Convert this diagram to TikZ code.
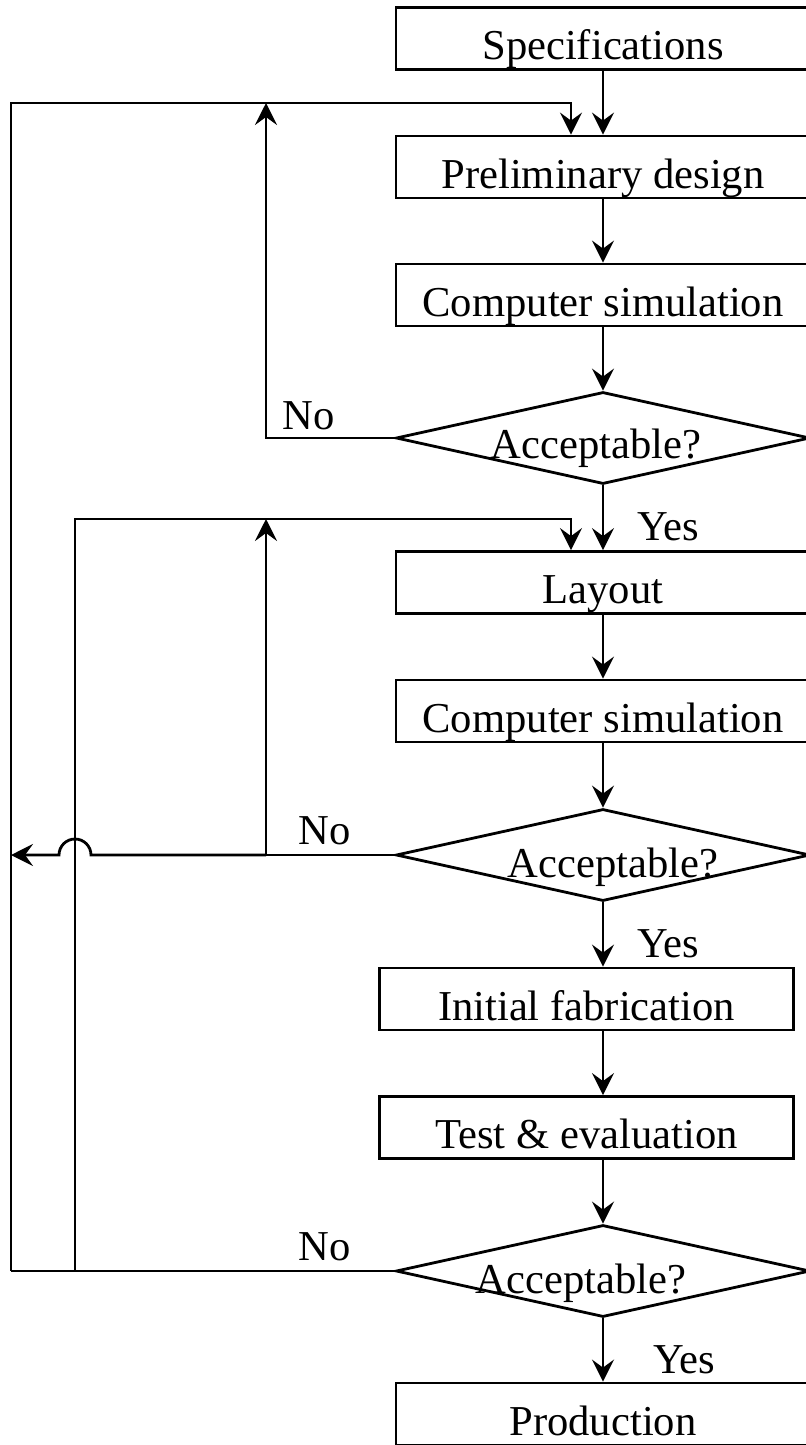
\documentclass[tikz,border=0pt]{standalone}
\usepackage{fontspec}
\setmainfont{Liberation Serif}
\usetikzlibrary{arrows.meta,shapes.geometric}

\tikzset{
  stepbox/.style={draw, line width=1.4pt, minimum width=207pt, inner xsep=0pt, inner ysep=0pt, text height=26pt, text depth=5pt},
  decide/.style={draw, diamond, line width=1.4pt, aspect=4.5, minimum width=207pt, minimum height=46pt, inner sep=0pt},
  flow/.style={line width=1.4pt, -{Stealth[length=11pt, width=11pt, inset=4pt]}},
  wire/.style={line width=1.4pt},
}

\begin{document}
\begin{tikzpicture}[x=0.5pt, y=-0.5pt, font=\fontsize{21.3}{25}\selectfont]

        \useasboundingbox (0,0) rectangle (806,1445);
        \clip (0,0) rectangle (806,1445);

        % design stage:
        \node(SPEC) [stepbox] at (603,38.5) {Specifications};
        \node(PRE) [stepbox] at (603,167) {Preliminary design};
        \draw[flow] (SPEC) -- (PRE);
        \node(SIM1) [stepbox] at (603,295) {Computer simulation};
        \draw[flow] (PRE) -- (SIM1);
        \node(ACC1) [decide] at (603,438) {};
        \node(TACC1) [anchor=base] at (596,458) {Acceptable?};
        \draw[flow] (SIM1) -- (ACC1);

        % layout stage:
        \node(LAY) [stepbox] at (603,582.5) {Layout};
        \draw[flow] (ACC1) -- (LAY);
        \node(YES1) [anchor=base] at (668,540) {Yes};
        \node(SIM2) [stepbox] at (603,711) {Computer simulation};
        \draw[flow] (LAY) -- (SIM2);
        \node(ACC2) [decide] at (603,855) {};
        \node(TACC2) [anchor=base] at (613,877) {Acceptable?};
        \draw[flow] (SIM2) -- (ACC2);

        % fabrication stage:
        \node(FAB) [stepbox] at (586.5,999) {Initial fabrication};
        \draw[flow] (ACC2.south) -- (ACC2.south |- FAB.north);
        \node(YES2) [anchor=base] at (668,957) {Yes};
        \node(TEST) [stepbox] at (586.5,1127.5) {Test \& evaluation};
        \draw[flow] (ACC2.south |- FAB.south) -- (ACC2.south |- TEST.north);
        \node(ACC3) [decide] at (603,1271) {};
        \node(TACC3) [anchor=base] at (581,1293) {Acceptable?};
        \draw[flow] (ACC2.south |- TEST.south) -- (ACC3.north);
        \node(PROD) [stepbox] at (603,1414) {Production};
        \draw[flow] (ACC3) -- (PROD);
        \node(YES3) [anchor=base] at (684,1373) {Yes};

        % feedback loops:
        \coordinate(TOP1) at (11,103);
        \coordinate(DROP1) at (571,103);
        \coordinate(JOIN1) at (266,103);
        \coordinate(TOP2) at (75,519);
        \coordinate(DROP2) at (571,519);
        \coordinate(JOIN2) at (266,519);
        \coordinate(RISE2) at (266,855);
        \coordinate(BOT1) at (11,1271);
        \coordinate(BOT2) at (75,1271);

        \draw[flow] (ACC1.west) -| (JOIN1);
        \node(NO1) [anchor=base] at (309,429) {No};
        \draw[flow] (BOT1) -- (TOP1) -- (DROP1) -- (DROP1 |- PRE.north);

        \draw[flow] (ACC2.west) -| (JOIN2);
        \draw[flow] (RISE2) -- ([xshift=8pt]BOT2 |- RISE2) arc[start angle=0, end angle=-180, radius=16] -- (TOP1 |- RISE2);
        \node(NO2) [anchor=base] at (325,844) {No};
        \draw[flow] (BOT2) -- (TOP2) -- (DROP2) -- (DROP2 |- LAY.north);

        \draw[wire] (ACC3.west) -- (BOT1);
        \node(NO3) [anchor=base] at (325,1260) {No};

    \end{tikzpicture}
\end{document}
